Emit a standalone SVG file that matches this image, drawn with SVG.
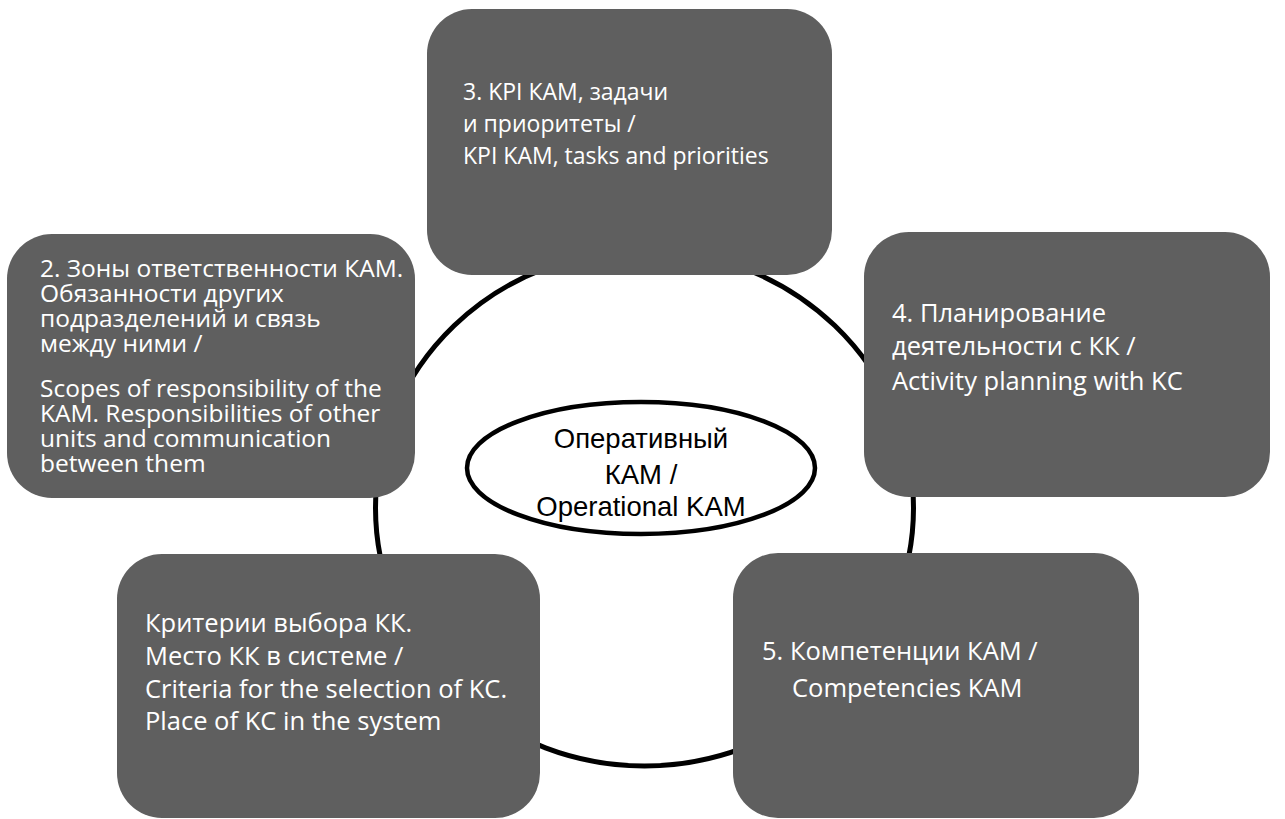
<svg xmlns="http://www.w3.org/2000/svg" width="1285" height="819" viewBox="0 0 1285 819">
  <style>
    .box { fill: #5f5f5f; }
    .lbl { font-family: "Open Sans", "Liberation Sans", sans-serif; font-size: 25.5px; fill: #ffffff; }
    .sm { font-size: 23px; }
    .tight { font-size: 24.5px; }
    .ctr { font-family: "Liberation Sans", Arial, sans-serif; font-size: 27.5px; fill: #000000; text-anchor: middle; }
    .ring { fill: none; stroke: #000000; stroke-width: 5; }
  </style>
  <rect width="1285" height="819" fill="#ffffff"/>

  <!-- ring linking the topics -->
  <g id="connectors">
    <ellipse class="ring" cx="644.5" cy="508" rx="269" ry="258"/>
  </g>

  <g id="node-center">
    <ellipse cx="641" cy="468" rx="174" ry="66" fill="#ffffff" stroke="#000000" stroke-width="4.5"/>
    <text class="ctr" x="641" y="448">Оперативный</text>
    <text class="ctr" x="641" y="484">КАМ /</text>
    <text class="ctr" x="641" y="516">Operational KAM</text>
  </g>

  <g id="node-3">
    <rect class="box" x="427" y="9" width="405" height="266" rx="45"/>
    <text class="lbl sm" x="463" y="100">3. KPI КАМ, задачи</text>
    <text class="lbl sm" x="463" y="132">и приоритеты /</text>
    <text class="lbl sm" x="463" y="164">KPI KAM, tasks and priorities</text>
  </g>

  <g id="node-2">
    <rect class="box" x="7" y="234" width="408" height="264" rx="45"/>
    <text class="lbl tight" x="40" y="277">2. Зоны ответственности КАМ.</text>
    <text class="lbl tight" x="40" y="302">Обязанности других</text>
    <text class="lbl tight" x="40" y="327">подразделений и связь</text>
    <text class="lbl tight" x="40" y="352">между ними /</text>
    <text class="lbl tight" x="40" y="397">Scopes of responsibility of the</text>
    <text class="lbl tight" x="40" y="422">KAM. Responsibilities of other</text>
    <text class="lbl tight" x="40" y="447">units and communication</text>
    <text class="lbl tight" x="40" y="472">between them</text>
  </g>

  <g id="node-4">
    <rect class="box" x="864" y="232" width="406" height="265" rx="45"/>
    <text class="lbl" x="892" y="322">4. Планирование</text>
    <text class="lbl" x="892" y="355">деятельности с КК /</text>
    <text class="lbl" x="892" y="390">Activity planning with KC</text>
  </g>

  <g id="node-1">
    <rect class="box" x="117" y="554" width="423" height="264" rx="45"/>
    <text class="lbl" x="145" y="632">Критерии выбора КК.</text>
    <text class="lbl" x="145" y="665">Место КК в системе  /</text>
    <text class="lbl" x="145" y="698">Criteria for the selection of KC.</text>
    <text class="lbl" x="145" y="730">Place of KC in the system</text>
  </g>

  <g id="node-5">
    <rect class="box" x="733" y="553" width="406" height="265" rx="45"/>
    <text class="lbl" x="762" y="660">5. Компетенции КАМ /</text>
    <text class="lbl" x="792" y="697">Competencies KAM</text>
  </g>
</svg>
